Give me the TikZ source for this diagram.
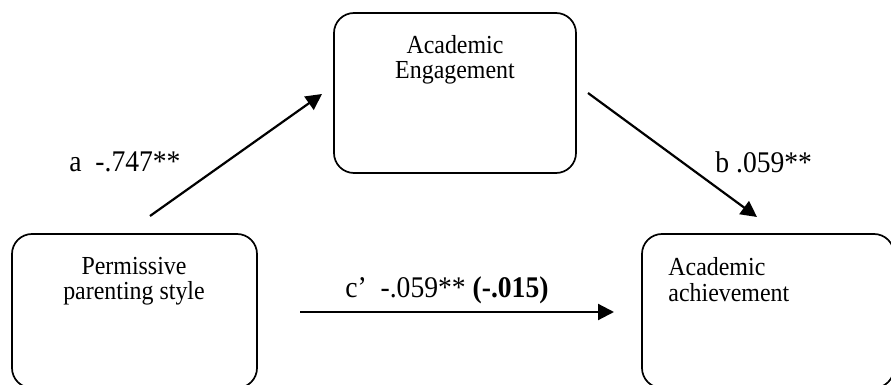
\documentclass[tikz,border=0pt]{standalone}
\usepackage{fontspec}
\setmainfont{Liberation Serif}[FakeStretch=0.92]
\usetikzlibrary{arrows.meta}
\begin{document}
\begin{tikzpicture}[x=0.5pt,y=-0.5pt,
  boxnode/.style={draw,line width=0.85pt,rounded corners=10pt,inner sep=0pt},
  txt/.style={font=\fontsize{13}{14}\selectfont,inner sep=0pt},
  lbl/.style={font=\fontsize{15}{16}\selectfont,inner sep=0pt,anchor=west},
  arr/.style={line width=1.1pt,-{Triangle[length=8pt,width=8pt]}}]
\clip (0,0) rectangle (891,385);
\fill[white] (0,0) rectangle (891,385);
% boxes
\node[boxnode,minimum width=121pt,minimum height=80pt] (eng) at (455,93) {};
\node[boxnode,minimum width=122.5pt,minimum height=77pt] (perm) at (134.5,311) {};
\node[boxnode,minimum width=126pt,minimum height=77pt] (ach) at (768,311) {};
% box texts
\node[txt] (engA) at (455,45) {Academic};
\node[txt] (engB) at (455,73) {Engagement};
\node[txt] (permA) at (134,266) {Permissive};
\node[txt] (permB) at (134,293) {parenting style};
\node[txt,anchor=west] (achA) at (668,267) {Academic};
\node[txt,anchor=west] (achB) at (668,293) {achievement};
% arrow ends
\coordinate (aS) at (150,216);
\coordinate (aE) at (322,94);
\coordinate (bS) at (588,93);
\coordinate (bE) at (757,217);
\coordinate (cS) at (300,312);
\coordinate (cE) at (614,312);
\draw[arr] (aS) -- (aE);
\draw[arr] (bS) -- (bE);
\draw[arr] (cS) -- (cE);
% labels
\node[lbl] (la) at (69,162) {a\ \ -.747**};
\node[lbl] (lb) at (715,162) {b .059**};
\node[lbl] (lc) at (345,290) {c’\ \ -.059** \textbf{(-.015)}};
\end{tikzpicture}
\end{document}
